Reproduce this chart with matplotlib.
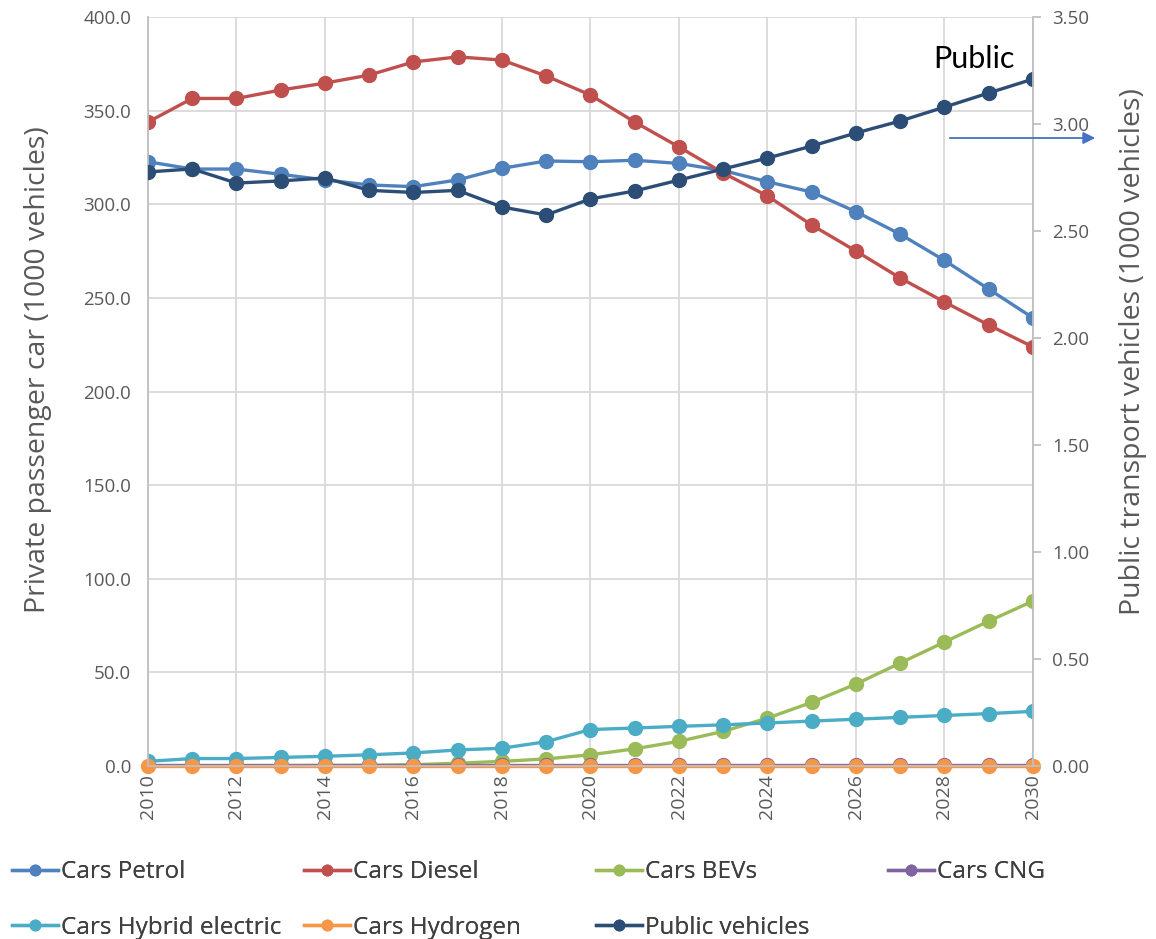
import matplotlib
matplotlib.use("Agg")
import matplotlib.pyplot as plt
import numpy as np

# Data -----------------------------------------------------------------
years = list(range(2010, 2031))

cars_petrol = [322.7, 318.8, 318.8, 316.0, 313.0, 310.3, 309.4, 313.0, 319.2, 323.1, 322.7,
               323.5, 321.8, 318.0, 312.0, 306.5, 296.0, 284.0, 270.0, 254.7, 239.3]
cars_diesel = [343.9, 356.5, 356.5, 361.0, 364.7, 369.0, 376.0, 378.7, 377.0, 368.5, 358.3,
               343.9, 330.6, 316.7, 304.4, 288.9, 275.0, 260.6, 247.8, 235.5, 223.8]
cars_bevs = [0.1, 0.1, 0.2, 0.2, 0.3, 0.4, 0.7, 1.5, 2.5, 3.8, 6.0,
             9.2, 13.2, 18.5, 25.6, 34.0, 43.8, 55.0, 66.2, 77.4, 88.1]
cars_cng = [0.5] * 21
cars_hybrid = [2.5, 4.0, 4.0, 4.6, 5.2, 6.0, 7.0, 8.6, 9.5, 13.0, 19.5,
               20.3, 21.2, 22.0, 23.0, 24.0, 25.0, 26.0, 27.0, 28.0, 29.2]
cars_hydrogen = [0.0] * 21
public_vehicles = [2.776, 2.790, 2.724, 2.734, 2.748, 2.690, 2.680, 2.690, 2.612, 2.575, 2.650,
                   2.687, 2.738, 2.790, 2.841, 2.897, 2.958, 3.014, 3.079, 3.145, 3.210]

left_ticks = np.arange(0, 401, 50)
right_ticks = np.arange(0, 3.51, 0.5)
x_ticks = list(range(2010, 2031, 2))

colors = {
    "petrol": "#4F81BD",
    "diesel": "#C0504D",
    "bevs": "#9BBB59",
    "cng": "#8064A2",
    "hybrid": "#4BACC6",
    "hydrogen": "#F79646",
    "public": "#2C4D75",
}

tick_col = "#595959"
grid_col = "#D9D9D9"
plt.rcParams["font.family"] = ["Open Sans", "DejaVu Sans"]


def main():
    fig = plt.figure(figsize=(11.56, 9.39), dpi=100)
    ax = fig.add_axes([0.128, 0.1842, 0.7656, 0.7977])
    ax2 = ax.twinx()

    line_kw = dict(lw=2.4, marker="o", ms=10)
    h_petrol, = ax.plot(years, cars_petrol, color=colors["petrol"], label="Cars Petrol", **line_kw)
    h_diesel, = ax.plot(years, cars_diesel, color=colors["diesel"], label="Cars Diesel", **line_kw)
    h_bevs, = ax.plot(years, cars_bevs, color=colors["bevs"], label="Cars BEVs", **line_kw)
    h_cng, = ax.plot(years, cars_cng, color=colors["cng"], label="Cars CNG", **line_kw)
    h_hybrid, = ax.plot(years, cars_hybrid, color=colors["hybrid"], label="Cars Hybrid electric", **line_kw)
    h_hydrogen, = ax.plot(years, cars_hydrogen, color=colors["hydrogen"], label="Cars Hydrogen",
                          clip_on=False, **line_kw)
    h_public, = ax2.plot(years, public_vehicles, color=colors["public"], label="Public vehicles", **line_kw)

    # Axes ---------------------------------------------------------------
    ax.set_xlim(2010, 2030)
    ax.set_ylim(0, 400)
    ax2.set_ylim(0, 3.5)
    ax.set_xticks(x_ticks)
    ax.set_xticklabels([str(y) for y in x_ticks], rotation=90)
    ax.set_yticks(left_ticks)
    ax.set_yticklabels([f"{v:.1f}" for v in left_ticks])
    ax2.set_yticks(right_ticks)
    ax2.set_yticklabels([f"{v:.2f}" for v in right_ticks])

    ax.grid(True, color=grid_col, lw=1.3)
    ax.set_axisbelow(True)
    for a in (ax, ax2):
        a.spines["top"].set_visible(False)
        for s in ("left", "right", "bottom"):
            a.spines[s].set_color("#BFBFBF")
            a.spines[s].set_linewidth(1.3)
    ax.spines["right"].set_visible(False)
    ax2.spines["left"].set_visible(False)
    ax2.spines["bottom"].set_visible(False)

    ax.tick_params(axis="y", length=0, labelsize=13.5, labelcolor=tick_col, pad=12)
    ax.tick_params(axis="x", length=0, labelsize=14, labelcolor=tick_col, pad=6)
    ax2.tick_params(axis="y", length=6, width=1.3, color="#BFBFBF", labelsize=13.5,
                    labelcolor=tick_col, pad=8)

    ax.set_ylabel("Private passenger car (1000 vehicles)", fontsize=20.5, color=tick_col)
    ax.yaxis.set_label_coords(-0.108, 0.529)
    ax2.set_ylabel("Public transport vehicles (1000 vehicles)", fontsize=20.5, color=tick_col)
    ax2.yaxis.set_label_coords(1.097, 0.554)

    # Annotation -----------------------------------------------------------
    fig.text(0.807, 0.928, "Public", fontsize=22, family=["Lato", "DejaVu Sans"], color="black")
    fig.patches.append(matplotlib.patches.FancyArrowPatch(
        (947 / 1156, 1 - 138 / 939), (1098 / 1156, 1 - 138 / 939),
        transform=fig.transFigure, arrowstyle="-|>", mutation_scale=18,
        color="#4472C4", lw=1.3))

    # Legend: one legend per column so columns are equally wide (like Excel)
    columns = [[h_petrol, h_hybrid], [h_diesel, h_hydrogen], [h_bevs, h_public], [h_cng]]
    col_x = [-5 / 1156, 287 / 1156, 579 / 1156, 871 / 1156]
    for cx, hs in zip(col_x, columns):
        leg = fig.legend(handles=hs, labels=[h.get_label() for h in hs],
                         loc="upper left", bbox_to_anchor=(cx, 1 - 843 / 939), frameon=False,
                         prop={"family": ["Open Sans", "DejaVu Sans"], "size": 17.5},
                         labelcolor="#404040", handlelength=1.9, handletextpad=0.1,
                         labelspacing=1.3, markerscale=0.75, borderaxespad=0.3)
        fig.add_artist(leg)

    fig.savefig("out.png", dpi=100)


if __name__ == "__main__":
    main()
